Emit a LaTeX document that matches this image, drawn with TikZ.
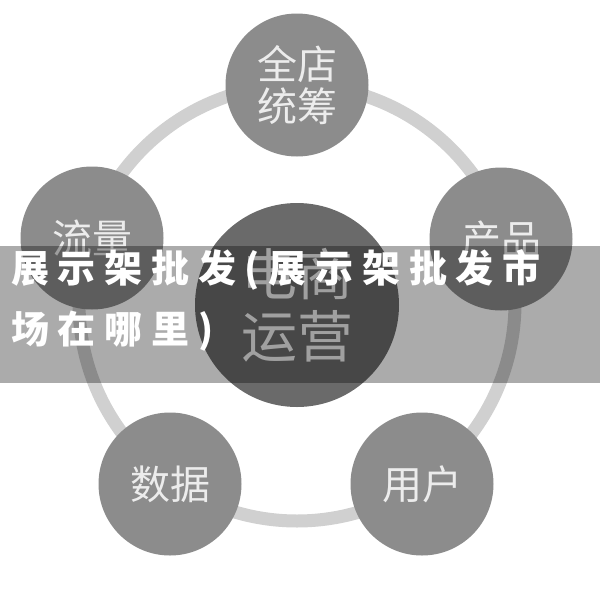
\documentclass[tikz,border=0pt]{standalone}
\usepackage{fontspec}
\newfontfamily\cjk{Noto Sans CJK SC}
\newfontfamily\bandfont[LetterSpace=23]{Noto Sans CJK SC}
\usetikzlibrary{calc}
\definecolor{ringgray}{HTML}{D0D0D0}
\definecolor{ballgray}{HTML}{8C8C8C}
\definecolor{hubgray}{HTML}{6A6A6A}
\definecolor{labelgray}{HTML}{ECECEC}

\begin{document}
\begin{tikzpicture}[x=1pt, y=-1pt,
	ball/.style={circle, fill=ballgray, minimum size=143pt, inner sep=0pt, text=labelgray, align=center, font=\cjk\fontsize{40}{42}\selectfont},
	hub/.style={circle, fill=hubgray, minimum size=204pt, inner sep=0pt, text=labelgray!80, align=center, font=\cjk\fontsize{56}{62}\selectfont},
	bandtext/.style={anchor=west, text=white, inner sep=0pt, font=\bandfont\bfseries\fontsize{38}{40}\selectfont}]
		%%%%% START %%%%%
		
		\useasboundingbox (0, 0) rectangle (600, 595);
		
		\draw[line width=13pt, color=ringgray] (297, 303) circle (218);
		
		\node[hub] (hub) at (297, 305) {电商\\运营};
		
		\node[ball] (plan) at (297, 85) {全店\\统筹};
		\node[ball] (goods) at (501, 239) {产品};
		\node[ball] (users) at (422, 484) {用户};
		\node[ball] (data) at (170, 484) {数据};
		\node[ball] (traffic) at (92, 238) {流量};
		
		\fill[black, opacity=0.33] (0, 246) rectangle (600, 383);
		
		\node[bandtext] (title) at (11, 270) {展示架批发(展示架批发市};
		\node[bandtext] (subtitle) at (11, 331) {场在哪里)};
		
		%%%%% END %%%%%
\end{tikzpicture}
\end{document}
